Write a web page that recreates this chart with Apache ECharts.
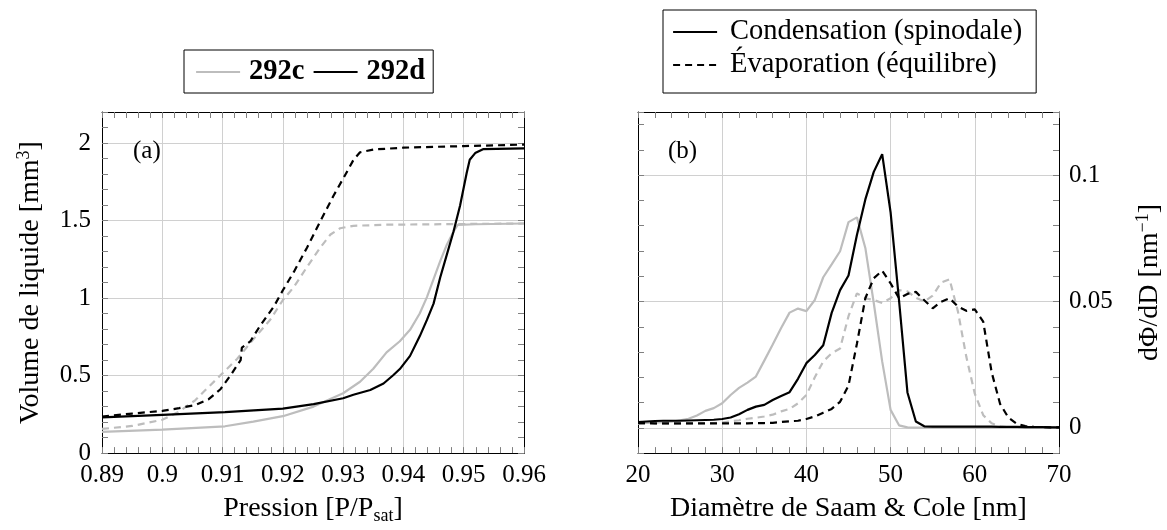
<!DOCTYPE html>
<html><head><meta charset="utf-8">
<script src="https://cdn.jsdelivr.net/npm/echarts@6/dist/echarts.min.js"></script>
<style>html,body{margin:0;padding:0;background:#fff}#c{width:1167px;height:530px}</style>
</head><body><div id="c"></div><script>
// ---------- Panel (a): volume vs pressure ----------
const evap292d = [[0.89,0.236],[0.895,0.255],[0.90,0.272],[0.9028,0.29],[0.9055,0.31],[0.9077,0.348],[0.9096,0.41],[0.9113,0.50],[0.9124,0.565],[0.9130,0.60],[0.9132,0.68],[0.9146,0.72],[0.9162,0.82],[0.9185,0.945],[0.92,1.05],[0.9218,1.167],[0.924,1.325],[0.9262,1.494],[0.9284,1.66],[0.93,1.77],[0.9317,1.89],[0.9328,1.94],[0.935,1.958],[0.94,1.97],[0.95,1.98],[0.96,1.99]];
const evap292c = [[0.89,0.156],[0.895,0.175],[0.90,0.215],[0.9028,0.268],[0.9055,0.342],[0.9069,0.397],[0.9096,0.50],[0.9124,0.607],[0.9151,0.734],[0.9179,0.86],[0.92,0.987],[0.9218,1.07],[0.924,1.2],[0.9262,1.325],[0.9279,1.41],[0.9295,1.45],[0.9317,1.466],[0.9372,1.473],[0.9483,1.477],[0.96,1.481]];
const cond292d = [[0.89,0.23],[0.90,0.247],[0.9104,0.264],[0.92,0.287],[0.9251,0.316],[0.93,0.354],[0.9317,0.376],[0.9345,0.407],[0.9367,0.449],[0.9383,0.502],[0.9394,0.542],[0.9411,0.627],[0.9427,0.753],[0.9439,0.859],[0.945,0.964],[0.9461,1.133],[0.9472,1.28],[0.9483,1.428],[0.9494,1.597],[0.9505,1.808],[0.951,1.892],[0.9519,1.935],[0.9532,1.96],[0.96,1.966]];
const cond292c = [[0.89,0.137],[0.90,0.152],[0.9104,0.173],[0.9151,0.203],[0.92,0.238],[0.9251,0.30],[0.93,0.386],[0.9328,0.46],[0.935,0.544],[0.9372,0.65],[0.9394,0.7215],[0.9411,0.795],[0.9427,0.90],[0.9439,1.006],[0.945,1.122],[0.9461,1.238],[0.9472,1.344],[0.9483,1.428],[0.949,1.472],[0.952,1.476],[0.96,1.481]];

// ---------- Panel (b): dPhi/dD vs diameter ----------
const diameters = [20,21,22,23,24,25,26,27,28,29,30,31,32,33,34,35,36,37,38,39,40,41,42,43,44,45,46,47,48,49,50,51,52,53,54,55,56,57,58,59,60,61,62,63,64,65,66,67,68,69,70];
const condB292d = [0.0023,0.0025,0.0027,0.0028,0.0028,0.0028,0.0029,0.0030,0.0031,0.0032,0.0035,0.0041,0.0054,0.0071,0.0084,0.0091,0.0110,0.0126,0.0141,0.0194,0.0256,0.0288,0.0327,0.0455,0.0545,0.0603,0.0763,0.0904,0.1013,0.1083,0.0853,0.0505,0.0140,0.0025,0.0006,0.0005,0.0005,0.0005,0.0005,0.0005,0.0005,0.0005,0.0005,0.0004,0.0004,0.0004,0.0003,0.0003,0.0003,0.0002,0.0002];
const condB292c = [0.0019,0.0020,0.0021,0.0022,0.0024,0.0030,0.0036,0.0049,0.0067,0.0078,0.0097,0.0130,0.0158,0.0179,0.0203,0.0266,0.0330,0.0395,0.0456,0.0472,0.0462,0.0506,0.0596,0.0647,0.0699,0.0814,0.0833,0.0712,0.0494,0.0263,0.0071,0.0010,0.0002,0.0001,0.0001,0.0001,0.0001,0.0001,0.0001,0.0001,0.0001,0.0001,0.0001,0.0001,0.0001,0.0001,0.0001,0.0001,0.0001,0.0001,0.0001];
const evapB292d = [0.0019,0.0019,0.0018,0.0018,0.0018,0.0018,0.0018,0.0018,0.0018,0.0018,0.0018,0.0018,0.0018,0.0018,0.0019,0.0019,0.0020,0.0023,0.0026,0.0028,0.0035,0.0045,0.0060,0.0075,0.0103,0.0167,0.0333,0.0513,0.0592,0.0622,0.0572,0.0513,0.0530,0.0538,0.0505,0.0473,0.0499,0.0513,0.0480,0.0463,0.0469,0.0420,0.0220,0.0095,0.0040,0.0016,0.0007,0.0004,0.0003,0.0002,0.0002];
const evapB292c = [0.0016,0.0016,0.0016,0.0016,0.0016,0.0016,0.0017,0.0017,0.0018,0.0019,0.0021,0.0026,0.0030,0.0036,0.0040,0.0045,0.0052,0.0065,0.0075,0.0097,0.0130,0.0200,0.0263,0.0295,0.0314,0.0442,0.0532,0.0513,0.0506,0.0494,0.0513,0.0545,0.0540,0.0515,0.0500,0.0523,0.0575,0.0588,0.0460,0.0280,0.0135,0.0050,0.0018,0.0006,0.0002,0.0001,0.0001,0.0001,0.0001,0.0001,0.0001];

// ---------- Axis ticks ----------
const rightYLabels = [0, 0.05, 0.1];

const FONT = '"Liberation Serif", "DejaVu Serif", serif';
const GRAY = '#bdbdbd';
const GRID = '#d0d0d0';
const TICK = '#808080';
const FS = 25;     // tick labels
const FN = 28;     // axis names
const FL = 28.5;   // legend

function zip(xs, ys) { return xs.map((x, i) => [x, ys[i]]); }

const labelStyle = { fontFamily: FONT, fontSize: FS, color: '#000' };
const richName = {
  sup: { fontFamily: FONT, fontSize: 18, lineHeight: 18, verticalAlign: 'top', color: '#000' },
  sub: { fontFamily: FONT, fontSize: 18, lineHeight: 18, verticalAlign: 'bottom', color: '#000' }
};
const nameStyle = { fontFamily: FONT, fontSize: FN, color: '#000', lineHeight: 32, rich: richName };

function minorAxis(grid, pos, min, max, interval, showLine) {
  return {
    type: 'value', gridIndex: grid, position: pos, min: min, max: max, interval: interval,
    axisLine: { show: showLine, onZero: false, lineStyle: { color: '#000', width: 1 } },
    axisTick: { show: true, inside: true, length: 6, lineStyle: { color: TICK, width: 1 } },
    axisLabel: { show: false }, splitLine: { show: false }
  };
}

const xAxis = [
  { type: 'value', gridIndex: 0, position: 'bottom', min: 0.89, max: 0.96, interval: 0.01,
    axisLine: { show: true, onZero: false, lineStyle: { color: '#000', width: 1 } },
    axisTick: { show: false },
    axisLabel: Object.assign({ margin: 10 }, labelStyle),
    splitLine: { show: true, lineStyle: { color: GRID, width: 1 } },
    name: 'Pression [P/P{sub|sat}]', nameLocation: 'middle', nameGap: 38, nameTextStyle: nameStyle },
  minorAxis(0, 'bottom', 0.89, 0.96, 0.002, false),
  minorAxis(0, 'top', 0.89, 0.96, 0.002, true),
  { type: 'value', gridIndex: 1, position: 'bottom', min: 20, max: 70, interval: 10,
    axisLine: { show: true, onZero: false, lineStyle: { color: '#000', width: 1 } },
    axisTick: { show: false },
    axisLabel: Object.assign({ margin: 10 }, labelStyle),
    splitLine: { show: true, lineStyle: { color: GRID, width: 1 } },
    name: 'Diamètre de Saam & Cole [nm]', nameLocation: 'middle', nameGap: 38, nameTextStyle: nameStyle },
  minorAxis(1, 'bottom', 20, 70, 2, false),
  minorAxis(1, 'top', 20, 70, 2, true)
];

const yAxis = [
  { type: 'value', gridIndex: 0, position: 'left', min: 0, max: 2.2, interval: 0.5,
    axisLine: { show: true, onZero: false, lineStyle: { color: '#000', width: 1 } },
    axisTick: { show: false },
    axisLabel: Object.assign({ margin: 11, showMaxLabel: false }, labelStyle),
    splitLine: { show: true, lineStyle: { color: GRID, width: 1 } },
    name: 'Volume de liquide [mm{sup|3}]', nameLocation: 'middle', nameRotate: 90, nameGap: 55, nameTextStyle: nameStyle },
  minorAxis(0, 'left', 0, 2.2, 0.1, false),
  minorAxis(0, 'right', 0, 2.2, 0.1, true),
  { type: 'value', gridIndex: 1, position: 'right', min: -0.01, max: 0.125,
    axisLine: { show: true, onZero: false, lineStyle: { color: '#000', width: 1 } },
    axisTick: { show: true, inside: true, length: 6, customValues: rightYLabels, lineStyle: { color: TICK } },
    axisLabel: Object.assign({ margin: 10, customValues: rightYLabels }, labelStyle),
    splitLine: { show: true, lineStyle: { color: GRID, width: 1 } },
    name: 'dΦ/dD [nm{sup|−1}]', nameLocation: 'middle', nameRotate: 90, nameGap: 75, nameTextStyle: nameStyle },
  minorAxis(1, 'left', -0.01, 0.125, 0.01, true),
  minorAxis(1, 'right', -0.01, 0.125, 0.01, false)
];

function line(name, data, color, dashed, xi, yi, z) {
  return {
    type: 'line', name: name, data: data, xAxisIndex: xi, yAxisIndex: yi, z: z,
    showSymbol: false, symbol: 'none', smooth: false, silent: true,
    lineStyle: { color: color, width: 2.2, type: dashed ? [7, 5] : 'solid', cap: 'butt' },
    itemStyle: { color: color }
  };
}

const series = [
  line('292c', cond292c, GRAY, false, 0, 0, 2),
  line('292c', evap292c, GRAY, true, 0, 0, 2),
  line('292d', cond292d, '#000', false, 0, 0, 3),
  line('292d', evap292d, '#000', true, 0, 0, 3),
  line('Condensation (spinodale)', zip(diameters, condB292d), '#000', false, 3, 3, 3),
  line('Évaporation (équilibre)', zip(diameters, evapB292d), '#000', true, 3, 3, 3),
  line('Condensation (spinodale)', zip(diameters, condB292c), GRAY, false, 3, 3, 2),
  line('Évaporation (équilibre)', zip(diameters, evapB292c), GRAY, true, 3, 3, 2)
];

const hiddenSymbol = { color: 'rgba(0,0,0,0)', borderWidth: 0, opacity: 0 };

const chart = echarts.init(document.getElementById('c'), null, { renderer: 'canvas' });
chart.setOption({
  animation: false,
  backgroundColor: '#fff',
  grid: [
    { left: 102, right: 643, top: 112, bottom: 71 },
    { left: 638, right: 107, top: 112, bottom: 71 }
  ],
  title: [
    { text: '(a)', left: 133, top: 139, padding: 0, textStyle: { fontFamily: FONT, fontSize: FS, fontWeight: 'normal', color: '#000' } },
    { text: '(b)', left: 668, top: 139, padding: 0, textStyle: { fontFamily: FONT, fontSize: FS, fontWeight: 'normal', color: '#000' } }
  ],
  legend: [
    { data: ['292c', '292d'], left: 184, top: 50, orient: 'horizontal',
      borderColor: '#000', borderWidth: 1, padding: [7, 8, 6, 11], itemWidth: 44, itemHeight: 14, itemGap: 8,
      selectedMode: false, itemStyle: hiddenSymbol, lineStyle: { width: 2.2 },
      textStyle: { fontFamily: FONT, fontSize: FL, fontWeight: 'bold', color: '#000', lineHeight: 30, padding: [0, 0, 0, 4] } },
    { data: ['Condensation (spinodale)', 'Évaporation (équilibre)'], left: 663, top: 10, orient: 'vertical',
      borderColor: '#000', borderWidth: 1, padding: [7, 14, 13, 9], itemWidth: 44, itemHeight: 14, itemGap: 3,
      selectedMode: false, itemStyle: hiddenSymbol, lineStyle: { width: 2.2 },
      textStyle: { fontFamily: FONT, fontSize: FL, color: '#000', lineHeight: 30, padding: [0, 0, 0, 8] } }
  ],
  xAxis: xAxis,
  yAxis: yAxis,
  series: series
});
</script></body></html>
